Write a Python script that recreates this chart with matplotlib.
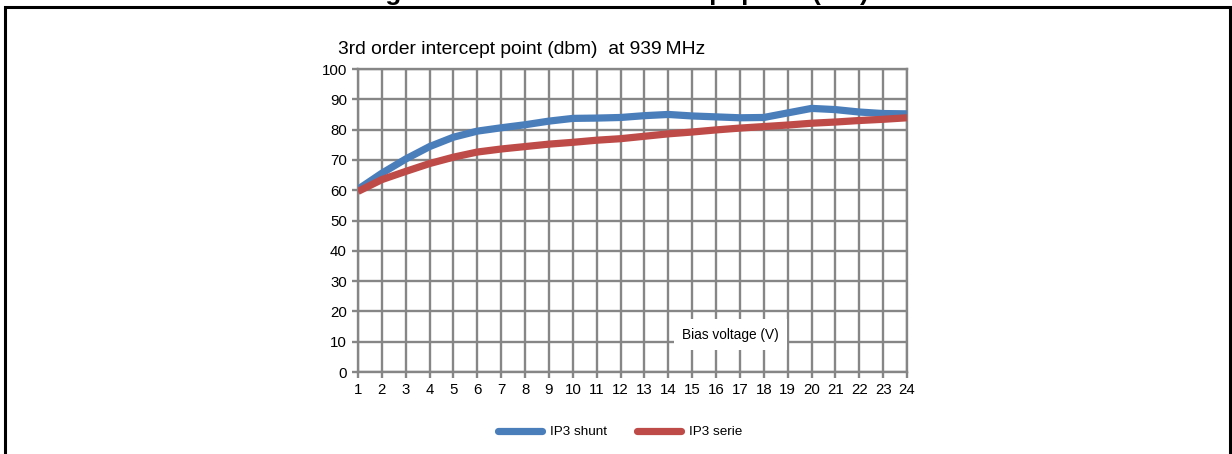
import matplotlib
matplotlib.use("Agg")
import matplotlib.pyplot as plt
from matplotlib.patches import Rectangle

plt.rcParams['font.family'] = ['Liberation Sans', 'DejaVu Sans']

# Datos
voltaje = list(range(1, 25))
ip3_shunt = [60.3, 65.6, 70.3, 74.4, 77.5, 79.5, 80.6, 81.6, 82.8, 83.7, 83.8, 84.0,
             84.6, 85.0, 84.5, 84.2, 83.9, 84.0, 85.5, 87.0, 86.6, 85.8, 85.3, 85.2]
ip3_serie = [59.6, 63.5, 66.2, 68.8, 70.9, 72.6, 73.6, 74.4, 75.2, 75.8, 76.5, 77.0,
             77.8, 78.6, 79.2, 79.9, 80.5, 81.0, 81.5, 82.1, 82.5, 83.0, 83.4, 83.9]
yticks = list(range(0, 101, 10))

azul = "#4A7EBB"
rojo = "#BE4B48"
gris = "#868686"

fig = plt.figure(figsize=(12.32, 4.54), dpi=100)
ax = fig.add_axes([358 / 1232, 1 - 372 / 454, 549 / 1232, 303 / 454])

ax.plot(voltaje, ip3_shunt, color=azul, lw=5.2, solid_capstyle="butt",
        solid_joinstyle="round", label="IP3 shunt", zorder=3)
ax.plot(voltaje, ip3_serie, color=rojo, lw=5.2, solid_capstyle="butt",
        solid_joinstyle="round", label="IP3 serie", zorder=3)

ax.set_xlim(1, 24)
ax.set_ylim(0, 100)
ax.set_xticks(voltaje)
ax.set_yticks(yticks)
ax.grid(True, color=gris, lw=1.7)
for s in ax.spines.values():
    s.set_color(gris)
    s.set_linewidth(1.7)
ax.tick_params(axis="both", colors=gris, labelcolor="black", labelsize=10.8,
               length=4, width=1.7, direction="out")
ax.tick_params(axis="x", pad=4)
ax.tick_params(axis="y", pad=4)
ax.set_axisbelow(True)

# etiqueta del eje x dentro del grafico
ax.text(16.6, 12.3, "Bias voltage (V)", fontsize=9.8, ha="center", va="center",
        bbox=dict(facecolor="white", edgecolor="none", pad=6), zorder=2)

fig.text(338 / 1232, 1 - 50 / 454, "3rd order intercept point (dbm)  at 939\u2009MHz",
         fontsize=13.9, ha="left", va="center")

# titulo cortado arriba (asi esta en la imagen original)
fig.text(615 / 1232, 1.001, "Figure 9. Third order intercept point (IP3)",
         fontsize=18.7, fontweight="bold", ha="center", va="baseline")

# marco negro
fig.patches.append(Rectangle((5 / 1232, -0.05), 1225 / 1232, 1.05 - 6.5 / 454,
                             transform=fig.transFigure, fill=False,
                             edgecolor="black", lw=2.2, clip_on=False))

leg = fig.legend(loc="center", bbox_to_anchor=(620 / 1232, 1 - 432 / 454), ncol=2,
                 frameon=False, fontsize=9.7, handlelength=3.3, columnspacing=2.2,
                 handletextpad=0.6)
for h in leg.get_lines():
    h.set_solid_capstyle("round")

fig.savefig("out.png", dpi=100)
